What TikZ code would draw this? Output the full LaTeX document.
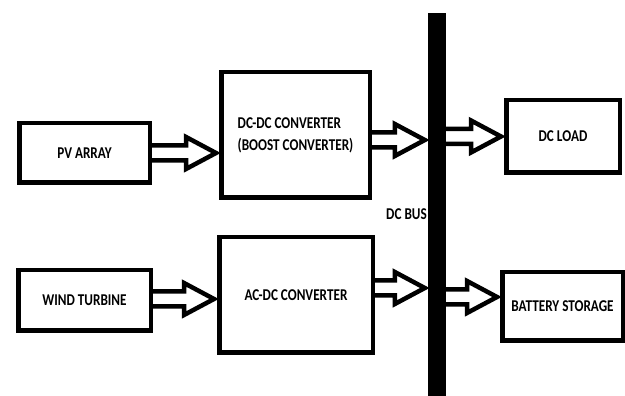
\documentclass[tikz,border=0pt]{standalone}
\usepackage{fontspec}
\setmainfont{Carlito}[FakeStretch=0.8]
\usetikzlibrary{calc}
\begin{document}
\begin{tikzpicture}[x=1pt, y=1pt,
    block/.style={draw, line width=4.5pt, inner sep=0pt, font=\bfseries\fontsize{16.5}{22}\selectfont},
    bus/.style={fill=black, inner sep=0pt, minimum width=18pt, minimum height=383pt},
    blockarrow/.style={draw, line width=4.5pt, line join=miter,
      to path={let \p1=(\tikztostart), \p2=(\tikztotarget) in
        (\x1,\y1+7.5pt) -- (\x2-33pt,\y1+7.5pt) -- (\x2-33pt,\y1+16pt) -- (\x2-3pt,\y1)
        -- (\x2-33pt,\y1-16pt) -- (\x2-33pt,\y1-7.5pt) -- (\x1,\y1-7.5pt)}}]
       \useasboundingbox (0,0) rectangle (625,396);
       \node[block, minimum width=130.5pt, minimum height=59.5pt] (pv) at (84.5, 243) {PV ARRAY};
       \node[block, minimum width=148.5pt, minimum height=125.5pt, align=left] (dcdc) at (295.5, 261) {DC-DC CONVERTER\\(BOOST CONVERTER)};
       \node[block, minimum width=132.5pt, minimum height=60.5pt] (wind) at (84.5, 95.5) {WIND TURBINE};
       \node[block, minimum width=153.5pt, minimum height=115.5pt] (acdc) at (296, 101) {AC-DC CONVERTER};
       \node[bus] (bus) at (437, 191.5) {};
       \node[font=\bfseries\fontsize{16.5}{22}\selectfont] (buslabel) at (406.5, 181.5) {DC BUS};
       \node[block, minimum width=113.5pt, minimum height=72.5pt] (dcload) at (563, 259.5) {DC LOAD};
       \node[block, minimum width=120.5pt, minimum height=68.5pt] (battery) at (562.5, 89.5) {BATTERY STORAGE};

       \draw[blockarrow] (pv.east) to (dcdc.west);
       \draw[blockarrow] ($(wind.east)+(0,1.5)$) to (acdc.west);
       \draw[blockarrow] ($(dcdc.east)+(0,-5)$) to (bus.west);
       \draw[blockarrow] ($(acdc.east)+(0,7)$) to (bus.west);
       \draw[blockarrow] (bus.east |- dcload.west) to (dcload.west);
       \draw[blockarrow] ($(bus.east |- battery.west)+(0,9.5)$) to (battery.west);
     \end{tikzpicture}
\end{document}
